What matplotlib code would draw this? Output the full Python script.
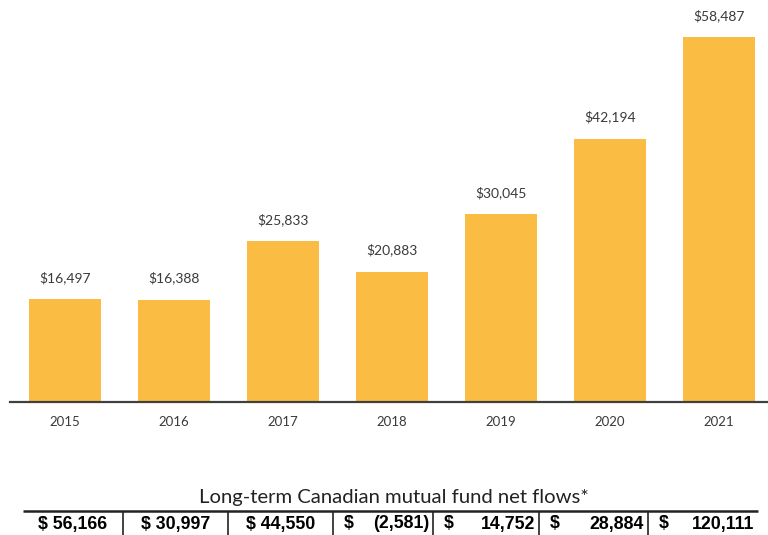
import matplotlib.pyplot as plt

# data
years = ["2015", "2016", "2017", "2018", "2019", "2020", "2021"]
assets = [16497, 16388, 25833, 20883, 30045, 42194, 58487]
net_flows = [56166, 30997, 44550, -2581, 14752, 28884, 120111]
table_title = "Long-term Canadian mutual fund net flows*"

bar_color = "#FBBC44"
text_color = "#3A3A3A"

fig = plt.figure(figsize=(7.68, 5.35), dpi=100)
ax = fig.add_axes([10 / 768, (535 - 402) / 535, 758 / 768, 402 / 535])

x = range(len(years))
bars = ax.bar(x, assets, width=0.66, color=bar_color)
ax.set_xlim(-0.505, 6.45)
ax.set_ylim(0, 64416)

for xi, v in zip(x, assets):
    ax.annotate("${:,}".format(v), (xi, v), xytext=(0, 15.5), textcoords="offset points",
                ha="center", va="center", fontsize=10, family="Lato", color=text_color)

ax.set_xticks(list(x))
ax.set_xticklabels(years, fontsize=9.5, family="Lato", color=text_color)
ax.tick_params(axis="x", length=0, pad=10)
ax.set_yticks([])
for s in ["top", "right", "left"]:
    ax.spines[s].set_visible(False)
ax.spines["bottom"].set_color("#404040")
ax.spines["bottom"].set_linewidth(1.6)

# table under the chart, in pixel coords
tab = fig.add_axes([0, 0, 1, 1], zorder=-1)
tab.set_xlim(0, 768)
tab.set_ylim(535, 0)
tab.axis("off")

edges = [23, 123, 228, 333, 433, 539, 648, 758]
tab.text(394, 498, table_title, ha="center", va="center", fontsize=14.6, family="Lato", color="#222222")
tab.plot([edges[0], edges[-1]], [511, 511], color="#222222", lw=1.8, solid_capstyle="butt")
for e in edges[1:-1]:
    tab.plot([e, e], [512, 535], color="#222222", lw=1.2)

ty = 524
for i, v in enumerate(net_flows):
    l, r = edges[i], edges[i + 1]
    num = "{:,}".format(abs(v))
    if v < 0:
        num = "(" + num + ")"
    if i < 3:
        tab.text((l + r) / 2, ty, "$ " + num, ha="center", va="center",
                 fontsize=12.8, family="Liberation Sans", weight="bold", color="black")
    else:
        tab.text(l + 11, ty, "$", ha="left", va="center",
                 fontsize=12.8, family="Liberation Sans", weight="bold", color="black")
        tab.text(r - 4, ty, num, ha="right", va="center",
                 fontsize=12.8, family="Liberation Sans", weight="bold", color="black")

fig.savefig("out.png", dpi=100)
